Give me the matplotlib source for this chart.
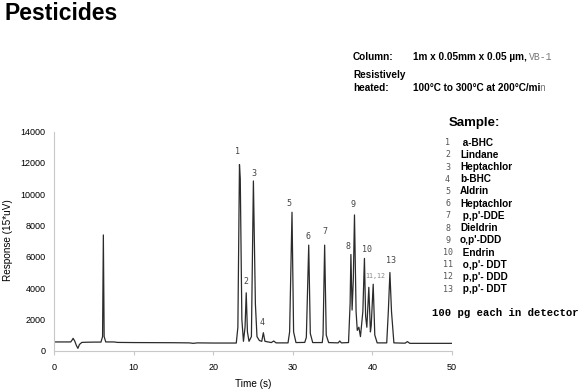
import matplotlib
matplotlib.use("Agg")
import matplotlib.pyplot as plt

# chromatogram trace: time (s), response (15*uV)
time_s = [0, 2.1, 2.3, 2.4, 2.6, 2.8, 3.0, 3.2, 3.5, 4.0, 5.0, 5.9, 6.1, 6.2, 6.3, 6.5,
          7.5, 8, 10, 15, 17, 17.5, 18, 20, 22.9, 23.1, 23.3, 23.4, 23.6, 23.8, 24.0,
          24.15, 24.3, 24.5, 24.8, 25.05, 25.3, 25.5, 25.8, 26.1, 26.3, 26.5, 27.3,
          27.6, 27.9, 29.4, 29.6, 29.9, 30.1, 30.4, 31.5, 31.7, 32.0, 32.2, 32.5,
          33.7, 33.8, 34.0, 34.2, 34.5, 35.7, 35.9, 36.1, 37.0, 37.2, 37.3, 37.45,
          37.6, 37.75, 37.95, 38.1, 38.3, 38.5, 38.8, 39.0, 39.15, 39.3, 39.55,
          39.75, 39.85, 40.1, 40.3, 40.6, 41.8, 42.0, 42.2, 42.4, 42.7, 44.1, 44.4,
          44.7, 50]
response = [560, 560, 700, 790, 620, 350, 150, 400, 530, 540, 550, 550, 900, 7400, 900, 560,
            560, 530, 520, 510, 500, 470, 500, 490, 490, 1500, 11900, 11000, 2000, 600, 1500,
            3700, 1200, 600, 900, 10850, 3000, 900, 650, 600, 1150, 600, 520,
            620, 500, 500, 1200, 8850, 1200, 520, 530, 850, 6750, 1100, 520,
            520, 1000, 6750, 1000, 520, 500, 620, 500, 520, 3000, 6150, 2600,
            4500, 8680, 2500, 1300, 1500, 900, 2500, 5900, 2200, 1500, 4050,
            1200, 1600, 4250, 1000, 500, 500, 2500, 5000, 2500, 500, 480, 580,
            470, 470]

# peak number labels and where they sit (time, response)
peak_labels = ["1", "2", "3", "4", "5", "6", "7", "8", "9", "10", "13"]
label_t = [23.1, 24.05, 25.1, 26.2, 29.5, 31.9, 34.0, 36.9, 37.6, 39.3, 42.3]
label_v = [12730, 4410, 11340, 1790, 9380, 7290, 7610, 6690, 9320, 6440, 5740]

sample_nums = ["1", "2", "3", "4", "5", "6", "7", "8", "9", "10", "11", "12", "13"]
sample_names = [" a-BHC", "Lindane", "Heptachlor", "b-BHC", "Aldrin", "Heptachlor",
                " p,p'-DDE", "Dieldrin", "o,p'-DDD", " Endrin", " o,p'- DDT",
                " p,p'- DDD", " p,p'- DDT"]

W, H = 586, 390
fig = plt.figure(figsize=(W / 100, H / 100), dpi=100)
ax = fig.add_axes([54 / W, 1 - 350.7 / H, 398 / W, 219 / H])

ax.plot(time_s, response, color="#2b2b2b", lw=0.9)
for lab, t, v in zip(peak_labels, label_t, label_v):
    ax.text(t, v, lab, ha="center", va="center", fontsize=6,
            family="DejaVu Sans Mono", color="#444444")
ax.text(40.3, 4800, "11,12", ha="center", va="center", fontsize=4.8,
        family="DejaVu Sans Mono", color="#888888")

ax.set_xlim(0, 50)
ax.set_ylim(0, 14000)
ax.set_xticks(range(0, 51, 10))
ax.set_yticks(range(0, 14001, 2000))
for s in ["top", "right"]:
    ax.spines[s].set_visible(False)
for s in ["left", "bottom"]:
    ax.spines[s].set_color("#c8c8c8")
    ax.spines[s].set_linewidth(0.8)
ax.tick_params(axis="x", length=3, color="#c8c8c8", pad=6, labelsize=6.5)
ax.tick_params(axis="y", length=0, pad=6, labelsize=6.5)
for lbl in ax.get_xticklabels() + ax.get_yticklabels():
    lbl.set_family("Liberation Sans")
ax.set_xlabel("Time (s)", family="Liberation Sans", fontsize=7.2, labelpad=5)


def ft(x, y, s, **kw):
    fig.text(x / W, 1 - y / H, s, **kw)


ft(8, 240, "Response (15*uV)", family="Liberation Sans", fontsize=7.2,
   rotation=90, ha="center", va="center")

sans_b = dict(family="Liberation Sans", weight="bold", va="center")
ft(4, 13, "Pesticides", fontsize=16.5, **sans_b)
ft(353, 57.3, "Column:", fontsize=7.2, **sans_b)
ft(412.7, 57.3, "1m x 0.05mm x 0.05 µm,", fontsize=7.2, **sans_b)
ft(529, 57.3, "VB-1", fontsize=7, family="Liberation Mono", color="#777777", va="center")
ft(353, 75, "Resistively", fontsize=7.2, **sans_b)
ft(353, 88, "heated:", fontsize=7.2, **sans_b)
ft(412.7, 88, "100°C to 300°C at 200°C/mi", fontsize=7.2, **sans_b)
ft(539.5, 88, "n", fontsize=7, family="Liberation Mono", color="#777777", va="center")

ft(449, 123.3, "Sample:", fontsize=9.5, **sans_b)
for i, (n, name) in enumerate(zip(sample_nums, sample_names)):
    y = 142.7 + i * 12.2
    ft(447.5, y, n, fontsize=6, family="DejaVu Sans Mono", color="#555555",
       ha="center", va="center")
    ft(460, y, name, fontsize=7.2, **sans_b)
ft(432, 313.5, "100 pg each in detector", fontsize=7.7, family="Liberation Mono",
   weight="bold", va="center")

fig.savefig("out.png", dpi=100)
